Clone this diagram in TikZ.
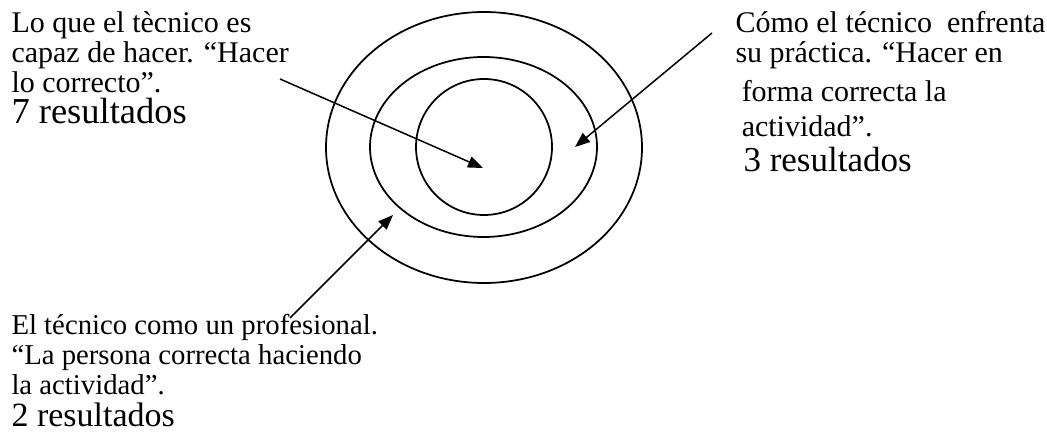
\documentclass[tikz,border=0pt]{standalone}
\usepackage{fontspec}
\setmainfont{Liberation Serif}
\usetikzlibrary{arrows.meta}

\begin{document}
\begin{tikzpicture}[x=0.4pt, y=0.4pt,
  every node/.style={font=\fontsize{12}{12}\selectfont, align=left, anchor=north west, inner sep=0pt},
  ring/.style={line width=0.7pt},
  pointer/.style={-{Triangle[length=6pt, width=4.6pt]}, line width=0.6pt}]
\useasboundingbox (0,0) rectangle (1047,440);
\draw[ring] (484,292.5) ellipse [x radius=158, y radius=135.5];
\draw[ring] (483.5,293) ellipse [x radius=113.5, y radius=90];
\draw[ring] (484,293) circle [radius=68];
\node (lo) at (11,429) {Lo que el tècnico es\\capaz de hacer. “Hacer\\lo correcto”.\\[0.6pt]{\fontsize{14.6}{14}\selectfont 7 resultados}};
\node (como) at (735,429) {Cómo el técnico~ enfrenta\\su práctica. “Hacer en\\[3.6pt]\hspace*{2.5pt}forma correcta la\\[2pt]\hspace*{2.5pt}actividad”.\\[2pt]\hspace*{3.2pt}{\fontsize{14}{14}\selectfont 3 resultados}};
\node[font=\fontsize{11.5}{12}\selectfont] (el) at (11,126) {El técnico como un profesional.\\“La persona correcta haciendo\\la actividad”.\\[0.6pt]{\fontsize{13.6}{14}\selectfont 2 resultados}};
\coordinate (lo-from) at (280,361);
\coordinate (core) at (483,272);
\coordinate (como-from) at (712,407);
\coordinate (band) at (575,293);
\coordinate (el-from) at (290,122);
\coordinate (rim) at (393,225);
\draw[pointer] (lo-from) -- (core);
\draw[pointer] (como-from) -- (band);
\draw[pointer] (el-from) -- (rim);
\end{tikzpicture}
\end{document}
